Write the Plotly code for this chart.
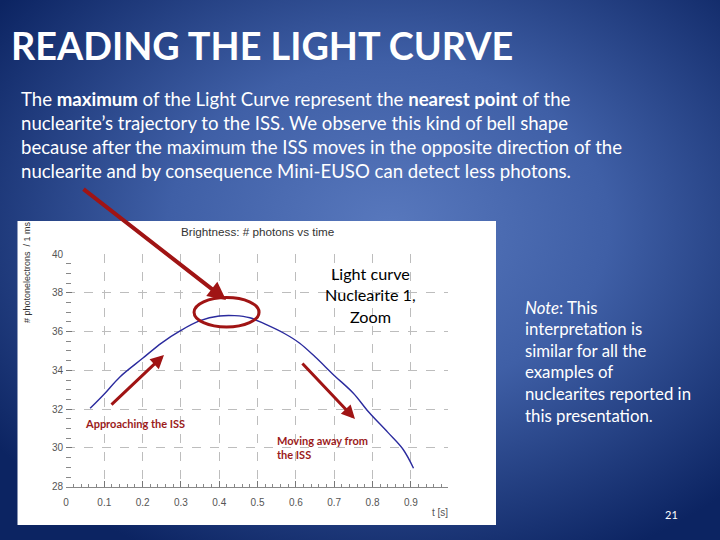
import base64
import plotly.graph_objects as go

# light curve
t_s = [0.063, 0.10, 0.14, 0.20, 0.25, 0.30, 0.35, 0.40, 0.44, 0.48,
       0.52, 0.57, 0.61, 0.65, 0.70, 0.75, 0.79, 0.84, 0.88, 0.907]
photons = [32.04, 32.78, 33.65, 34.62, 35.42, 36.06, 36.56, 36.80, 36.82, 36.71,
           36.38, 35.90, 35.40, 34.70, 33.74, 32.82, 31.85, 30.80, 29.92, 28.95]
x_ticks = [0, 0.1, 0.2, 0.3, 0.4, 0.5, 0.6, 0.7, 0.8, 0.9]
y_ticks = [28, 30, 32, 34, 36, 38, 40]

title = "READING THE LIGHT CURVE"
body_lines = [
    "The <b>maximum</b> of the Light Curve represent the <b>nearest point</b> of the",
    "nuclearite\u2019s trajectory to the ISS. We observe this kind of bell shape",
    "because after the maximum the ISS moves in the opposite direction of the",
    "nuclearite and by consequence Mini-EUSO can detect less photons.",
]
note_lines = ["<i>Note</i>: This", "interpretation is", "similar for all the",
              "examples of", "nuclearites reported in", "this presentation."]
curve_label = ["Light curve", "Nuclearite 1,", "Zoom"]

W, H = 720, 540
RED = "#a01414"
SLIDE_FONT = "Lato, Calibri, sans-serif"
CHART_FONT = "Liberation Sans Narrow, Arial Narrow, Arial, sans-serif"


def px(x):
    return x / W


def py(y):
    return 1 - y / H


# radial blue background as an inline svg
svg = f"""<svg xmlns='http://www.w3.org/2000/svg' width='{W}' height='{H}'>
<defs><radialGradient id='g' cx='54%' cy='42%' r='68%'>
<stop offset='0' stop-color='#5878bd'/>
<stop offset='0.45' stop-color='#3f5fa6'/>
<stop offset='1' stop-color='#0c2462'/>
</radialGradient></defs>
<rect width='{W}' height='{H}' fill='url(#g)'/></svg>"""
bg_src = "data:image/svg+xml;base64," + base64.b64encode(svg.encode()).decode()

fig = go.Figure()
fig.add_trace(go.Scatter(x=t_s, y=photons, mode="lines",
                         line=dict(color="#2b2b9e", width=1.4, shape="spline"),
                         hoverinfo="skip", showlegend=False))

fig.update_layout(
    width=W, height=H,
    margin=dict(l=0, r=0, t=0, b=0, autoexpand=False),
    paper_bgcolor="#2e4c92",
    plot_bgcolor="rgba(0,0,0,0)",
    showlegend=False,
    images=[dict(source=bg_src, xref="paper", yref="paper", x=0, y=1,
                 sizex=1, sizey=1, sizing="stretch", layer="below",
                 xanchor="left", yanchor="top")],
    xaxis=dict(domain=[px(66), px(448)], range=[0, 0.997], automargin=False,
               tickvals=x_ticks, ticktext=[f"{v:g}" for v in x_ticks],
               ticks="inside", ticklen=6, tickcolor="#777",
               minor=dict(dtick=0.02, ticks="inside", ticklen=3, tickcolor="#888", showgrid=False),
               showgrid=True, gridcolor="#bdbdbd", griddash="dash", gridwidth=1,
               showline=True, linecolor="#888", zeroline=False,
               tickfont=dict(family=CHART_FONT, size=10, color="#555"),
               ticklabelstandoff=6, fixedrange=True),
    yaxis=dict(domain=[py(486.7), py(254)], range=[28, 40], automargin=False,
               tickvals=y_ticks,
               ticks="inside", ticklen=6, tickcolor="#777",
               minor=dict(dtick=0.5, ticks="inside", ticklen=5, tickcolor="#888", showgrid=False),
               showgrid=True, gridcolor="#bdbdbd", griddash="dash", gridwidth=1,
               showline=False, zeroline=False,
               tickfont=dict(family=CHART_FONT, size=10, color="#555"),
               ticklabelstandoff=2, fixedrange=True),
)

# white picture box behind the chart
fig.add_shape(type="rect", xref="paper", yref="paper",
              x0=px(17.5), x1=px(496), y0=py(525), y1=py(221),
              fillcolor="white", line=dict(width=0), layer="below")
# red ellipse around the maximum
fig.add_shape(type="circle", xref="x", yref="y",
              x0=(194 - 66) / 383, x1=(259 - 66) / 383,
              y0=40 - (327 - 254) / 19.39, y1=40 - (297.5 - 254) / 19.39,
              line=dict(color=RED, width=3))

ann = []
ann.append(dict(text=f"<b>{title}</b>", x=px(9), y=py(46), xanchor="left", yanchor="middle",
                font=dict(family=SLIDE_FONT, size=37.8, color="white")))
for i, line in enumerate(body_lines):
    ann.append(dict(text=line, x=px(19), y=py(99 + 24 * i), xanchor="left", yanchor="middle",
                    font=dict(family=SLIDE_FONT, size=18.6, color="white")))
for i, line in enumerate(note_lines):
    ann.append(dict(text=line, x=px(523), y=py(307 + 21.6 * i), xanchor="left", yanchor="middle",
                    font=dict(family=SLIDE_FONT, size=16.8, color="white")))
for i, line in enumerate(curve_label):
    ann.append(dict(text=line, x=px(371), y=py(273 + 21.5 * i), xanchor="center", yanchor="middle",
                    font=dict(family=SLIDE_FONT, size=16.2, color="black")))
ann.append(dict(text="Brightness: # photons vs time", x=px(257), y=py(232),
                xanchor="center", yanchor="middle",
                font=dict(family=CHART_FONT, size=11.7, color="#333")))
ann.append(dict(text="# photonelectrons  / 1 ms", x=px(27), y=py(272), textangle=-90,
                xanchor="center", yanchor="middle",
                font=dict(family=CHART_FONT, size=9, color="#333")))
ann.append(dict(text="t [s]", x=px(440), y=py(512), xanchor="center", yanchor="middle",
                font=dict(family=CHART_FONT, size=10, color="#555")))
ann.append(dict(text="<b>Approaching the ISS</b>", x=px(83), y=py(423), xanchor="left", yanchor="middle",
                font=dict(family=SLIDE_FONT, size=11, color="#9b1b1b")))
ann.append(dict(text="<b>Moving away from</b>", x=px(275), y=py(440), xanchor="left", yanchor="middle",
                font=dict(family=SLIDE_FONT, size=11, color="#9b1b1b")))
ann.append(dict(text="<b>the ISS</b>", x=px(275), y=py(454), xanchor="left", yanchor="middle",
                font=dict(family=SLIDE_FONT, size=11, color="#9b1b1b")))
ann.append(dict(text="21", x=px(671), y=py(514), xanchor="center", yanchor="middle",
                font=dict(family=SLIDE_FONT, size=11, color="white")))

# arrows: (tail, head) in pixels
arrows = [((82, 188), (226, 300), 4), ((110, 406), (164, 355), 3), ((301, 362), (355, 419), 3)]
for (tx, ty), (hx, hy), w in arrows:
    ann.append(dict(text="", x=px(hx), y=py(hy), ax=tx - hx, ay=ty - hy,
                    showarrow=True, arrowhead=2, arrowsize=0.9, arrowwidth=w,
                    arrowcolor=RED))

for a in ann:
    a.setdefault("xref", "paper")
    a.setdefault("yref", "paper")
    a.setdefault("showarrow", False)
fig.update_layout(annotations=ann)

# drop the default page margin/scrollbars so the slide fills the window exactly
fig.write_html(
    "out.html",
    config={"displayModeBar": False},
    post_script=("document.body.style.margin='0';"
                 "document.body.style.overflow='hidden';"
                 "document.documentElement.style.overflow='hidden';"),
)
